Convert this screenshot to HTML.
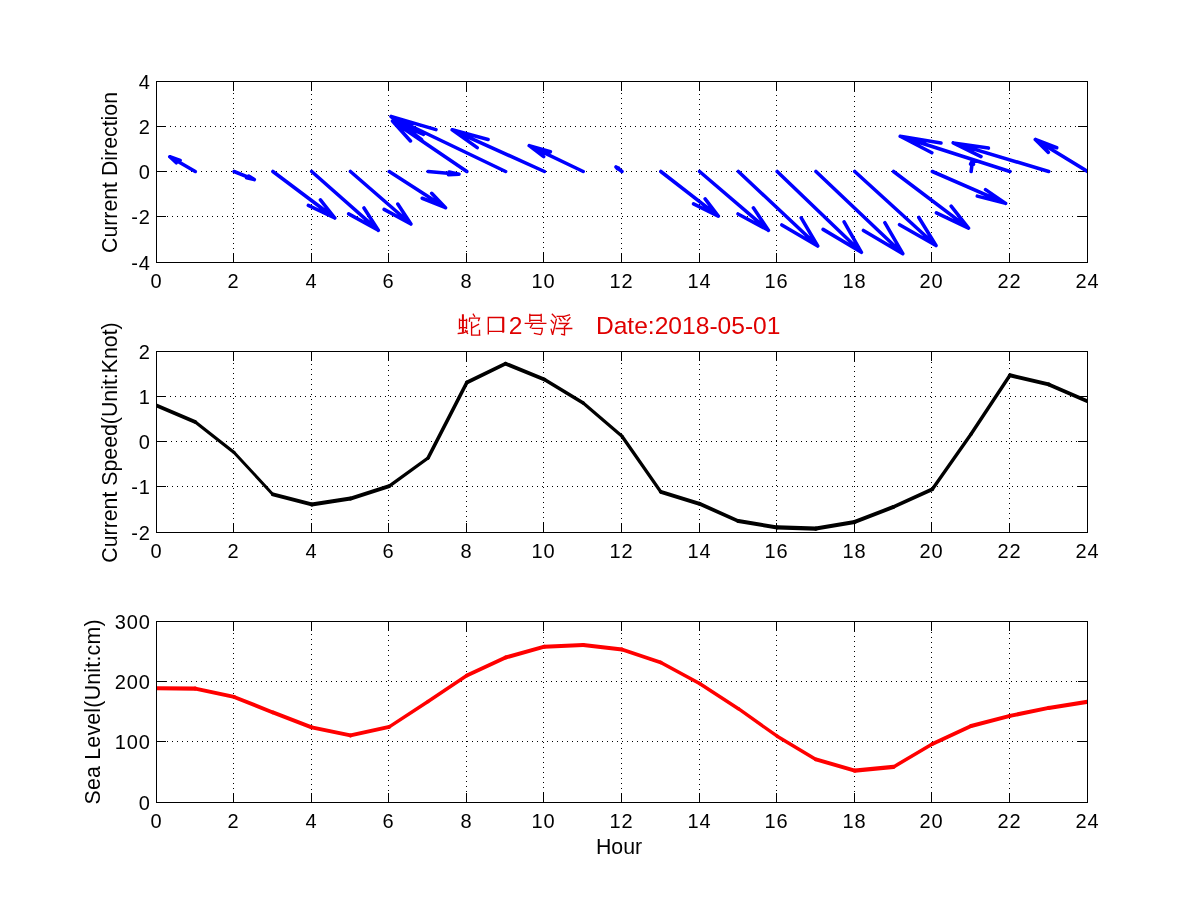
<!DOCTYPE html><html><head><meta charset="utf-8"><style>html,body{margin:0;padding:0;background:#fff;}svg{display:block;will-change:transform}</style></head><body>
<svg width="1201" height="901" viewBox="0 0 1201 901">
<rect width="1201" height="901" fill="#fff"/>
<path d="M233.5 83V263M311.5 84V263M388.5 85V263M466.5 81V263M543.5 82V263M621.5 83V263M699.5 84V263M776.5 85V263M854.5 81V263M931.5 82V263M1009.5 83V263M160 126.5H1088M156 171.5H1088M157 216.5H1088" stroke="#000" stroke-width="1" stroke-dasharray="1 4" fill="none"/>
<rect x="156.5" y="81.5" width="931" height="181" stroke="#000" stroke-width="1" fill="none"/>
<path d="M233.5 263v-10M233.5 81v10M311.5 263v-10M311.5 81v10M388.5 263v-10M388.5 81v10M466.5 263v-10M466.5 81v10M543.5 263v-10M543.5 81v10M621.5 263v-10M621.5 81v10M699.5 263v-10M699.5 81v10M776.5 263v-10M776.5 81v10M854.5 263v-10M854.5 81v10M931.5 263v-10M931.5 81v10M1009.5 263v-10M1009.5 81v10M156 126.5h10M1088 126.5h-10M156 171.5h10M1088 171.5h-10M156 216.5h10M1088 216.5h-10" stroke="#000" stroke-width="1" fill="none"/>
<path d="M233.5 353V533M311.5 354V533M388.5 355V533M466.5 351V533M543.5 352V533M621.5 353V533M699.5 354V533M776.5 355V533M854.5 351V533M931.5 352V533M1009.5 353V533M160 396.5H1088M156 441.5H1088M157 486.5H1088" stroke="#000" stroke-width="1" stroke-dasharray="1 4" fill="none"/>
<rect x="156.5" y="351.5" width="931" height="181" stroke="#000" stroke-width="1" fill="none"/>
<path d="M233.5 533v-10M233.5 351v10M311.5 533v-10M311.5 351v10M388.5 533v-10M388.5 351v10M466.5 533v-10M466.5 351v10M543.5 533v-10M543.5 351v10M621.5 533v-10M621.5 351v10M699.5 533v-10M699.5 351v10M776.5 533v-10M776.5 351v10M854.5 533v-10M854.5 351v10M931.5 533v-10M931.5 351v10M1009.5 533v-10M1009.5 351v10M156 396.5h10M1088 396.5h-10M156 441.5h10M1088 441.5h-10M156 486.5h10M1088 486.5h-10" stroke="#000" stroke-width="1" fill="none"/>
<path d="M233.5 623V803M311.5 624V803M388.5 625V803M466.5 621V803M543.5 622V803M621.5 623V803M699.5 624V803M776.5 625V803M854.5 621V803M931.5 622V803M1009.5 623V803M156 681.5H1088M157 741.5H1088" stroke="#000" stroke-width="1" stroke-dasharray="1 4" fill="none"/>
<rect x="156.5" y="621.5" width="931" height="181" stroke="#000" stroke-width="1" fill="none"/>
<path d="M233.5 803v-10M233.5 621v10M311.5 803v-10M311.5 621v10M388.5 803v-10M388.5 621v10M466.5 803v-10M466.5 621v10M543.5 803v-10M543.5 621v10M621.5 803v-10M621.5 621v10M699.5 803v-10M699.5 621v10M776.5 803v-10M776.5 621v10M854.5 803v-10M854.5 621v10M931.5 803v-10M931.5 621v10M1009.5 803v-10M1009.5 621v10M156 681.5h10M1088 681.5h-10M156 741.5h10M1088 741.5h-10" stroke="#000" stroke-width="1" fill="none"/>
<defs><clipPath id="c0"><rect x="157" y="82" width="930" height="180"/></clipPath><clipPath id="c1"><rect x="157" y="352" width="930" height="180"/></clipPath><clipPath id="c2"><rect x="157" y="622" width="930" height="180"/></clipPath></defs>
<g clip-path="url(#c1)"><g stroke="#000" stroke-linecap="round"><line x1="156.50" y1="405.50" x2="195.29" y2="422.00" stroke-width="3.77"/><line x1="195.29" y1="422.00" x2="234.08" y2="452.40" stroke-width="3.23"/><line x1="234.08" y1="452.40" x2="272.88" y2="494.40" stroke-width="3.01"/><line x1="272.88" y1="494.40" x2="311.67" y2="504.40" stroke-width="3.97"/><line x1="311.67" y1="504.40" x2="350.46" y2="498.60" stroke-width="4.05"/><line x1="350.46" y1="498.60" x2="389.25" y2="486.10" stroke-width="3.90"/><line x1="389.25" y1="486.10" x2="428.04" y2="458.00" stroke-width="3.32"/><line x1="428.04" y1="458.00" x2="466.83" y2="382.50" stroke-width="3.65"/><line x1="466.83" y1="382.50" x2="505.62" y2="363.70" stroke-width="3.69"/><line x1="505.62" y1="363.70" x2="544.42" y2="379.50" stroke-width="3.80"/><line x1="544.42" y1="379.50" x2="583.21" y2="403.00" stroke-width="3.51"/><line x1="583.21" y1="403.00" x2="622.00" y2="436.20" stroke-width="3.11"/><line x1="622.00" y1="436.20" x2="660.79" y2="491.90" stroke-width="3.36"/><line x1="660.79" y1="491.90" x2="699.58" y2="503.80" stroke-width="3.92"/><line x1="699.58" y1="503.80" x2="738.38" y2="521.10" stroke-width="3.74"/><line x1="738.38" y1="521.10" x2="777.17" y2="527.40" stroke-width="4.05"/><line x1="777.17" y1="527.40" x2="815.96" y2="528.60" stroke-width="4.10"/><line x1="815.96" y1="528.60" x2="854.75" y2="521.90" stroke-width="4.04"/><line x1="854.75" y1="521.90" x2="893.54" y2="506.90" stroke-width="3.82"/><line x1="893.54" y1="506.90" x2="932.33" y2="489.30" stroke-width="3.73"/><line x1="932.33" y1="489.30" x2="971.12" y2="434.00" stroke-width="3.36"/><line x1="971.12" y1="434.00" x2="1009.92" y2="375.30" stroke-width="3.42"/><line x1="1009.92" y1="375.30" x2="1048.71" y2="384.40" stroke-width="3.99"/><line x1="1048.71" y1="384.40" x2="1087.50" y2="401.20" stroke-width="3.76"/></g></g>
<g clip-path="url(#c2)"><g stroke="#f00" stroke-linecap="round"><line x1="156.50" y1="688.20" x2="195.29" y2="688.60" stroke-width="4.10"/><line x1="195.29" y1="688.60" x2="234.08" y2="696.90" stroke-width="4.01"/><line x1="234.08" y1="696.90" x2="272.88" y2="712.40" stroke-width="3.81"/><line x1="272.88" y1="712.40" x2="311.67" y2="727.40" stroke-width="3.82"/><line x1="311.67" y1="727.40" x2="350.46" y2="735.40" stroke-width="4.02"/><line x1="350.46" y1="735.40" x2="389.25" y2="726.90" stroke-width="4.00"/><line x1="389.25" y1="726.90" x2="428.04" y2="701.50" stroke-width="3.43"/><line x1="428.04" y1="701.50" x2="466.83" y2="675.50" stroke-width="3.41"/><line x1="466.83" y1="675.50" x2="505.62" y2="657.50" stroke-width="3.72"/><line x1="505.62" y1="657.50" x2="544.42" y2="646.70" stroke-width="3.95"/><line x1="544.42" y1="646.70" x2="583.21" y2="645.00" stroke-width="4.10"/><line x1="583.21" y1="645.00" x2="622.00" y2="649.50" stroke-width="4.07"/><line x1="622.00" y1="649.50" x2="660.79" y2="662.50" stroke-width="3.89"/><line x1="660.79" y1="662.50" x2="699.58" y2="683.50" stroke-width="3.61"/><line x1="699.58" y1="683.50" x2="738.38" y2="708.70" stroke-width="3.44"/><line x1="738.38" y1="708.70" x2="777.17" y2="736.20" stroke-width="3.34"/><line x1="777.17" y1="736.20" x2="815.96" y2="759.40" stroke-width="3.52"/><line x1="815.96" y1="759.40" x2="854.75" y2="770.60" stroke-width="3.94"/><line x1="854.75" y1="770.60" x2="893.54" y2="766.90" stroke-width="4.08"/><line x1="893.54" y1="766.90" x2="932.33" y2="744.00" stroke-width="3.53"/><line x1="932.33" y1="744.00" x2="971.12" y2="726.00" stroke-width="3.72"/><line x1="971.12" y1="726.00" x2="1009.92" y2="715.90" stroke-width="3.97"/><line x1="1009.92" y1="715.90" x2="1048.71" y2="707.90" stroke-width="4.02"/><line x1="1048.71" y1="707.90" x2="1087.50" y2="701.80" stroke-width="4.05"/></g></g>
<g clip-path="url(#c0)"><path d="M195.29 171.5L169.80 156.75M176.29 162.75L169.80 156.75L180.13 160.49M234.08 171.5L254.30 179.60M248.68 176.03L254.30 179.60L246.57 177.82M272.88 171.5L334.80 218.00M320.42 199.91L334.80 218.00L308.31 205.40M311.67 171.5L378.30 230.30M363.96 207.95L378.30 230.30L348.66 213.85M350.46 171.5L410.90 224.00M397.79 204.00L410.90 224.00L384.12 209.35M389.25 171.5L445.50 207.70M431.65 193.26L445.50 207.70L422.23 198.24M428.04 171.5L459.00 174.20M449.14 171.94L459.00 174.20L448.43 174.68M466.83 171.5L392.50 121.00M410.46 140.96L392.50 121.00L423.60 134.37M505.62 171.5L391.00 116.50M421.67 139.72L391.00 116.50L435.98 129.58M544.42 171.5L452.20 129.80M477.20 147.64L452.20 129.80L488.06 139.48M583.21 171.5L529.20 145.70M543.67 156.60L529.20 145.70L550.38 151.82M622.00 171.5L616.00 167.00M617.39 168.75L616.00 167.00L618.57 168.22M660.79 171.5L718.30 216.10M705.13 198.84L718.30 216.10L693.52 203.93M699.58 171.5L768.40 230.30M753.34 207.85L768.40 230.30L738.04 213.94M738.38 171.5L817.70 246.00M801.22 217.90L817.70 246.00L781.83 224.93M777.17 171.5L861.40 252.30M844.12 221.91L861.40 252.30L823.09 229.36M815.96 171.5L902.80 253.70M884.84 222.73L902.80 253.70L863.45 230.42M854.75 171.5L936.00 245.50M918.82 217.48L936.00 245.50L899.56 224.68M893.54 171.5L968.50 228.20M951.14 206.17L968.50 228.20L936.39 212.81M932.33 171.5L1005.60 203.40M985.57 189.63L1005.60 203.40L977.27 196.12M971.12 171.5L972.50 160.50M970.61 164.07L972.50 160.50L973.48 164.19M1009.92 171.5L900.20 136.30M931.83 152.77L900.20 136.30L940.99 143.06M1048.71 171.5L953.20 142.90M981.00 156.57L953.20 142.90L988.44 148.11M1087.50 171.5L1035.30 139.50M1048.36 152.37L1035.30 139.50L1056.69 147.75" fill="none" stroke="#00f" stroke-width="3.55" stroke-linejoin="round" stroke-linecap="round"/></g>
<g font-family='"Liberation Sans", sans-serif' font-size="20" letter-spacing="0.9" fill="#000"><text x="156.50" y="288" text-anchor="middle">0</text><text x="233.50" y="288" text-anchor="middle">2</text><text x="311.50" y="288" text-anchor="middle">4</text><text x="388.50" y="288" text-anchor="middle">6</text><text x="466.50" y="288" text-anchor="middle">8</text><text x="543.50" y="288" text-anchor="middle">10</text><text x="621.50" y="288" text-anchor="middle">12</text><text x="699.50" y="288" text-anchor="middle">14</text><text x="776.50" y="288" text-anchor="middle">16</text><text x="854.50" y="288" text-anchor="middle">18</text><text x="931.50" y="288" text-anchor="middle">20</text><text x="1009.50" y="288" text-anchor="middle">22</text><text x="1087.50" y="288" text-anchor="middle">24</text><text x="150.90" y="89" text-anchor="end">4</text><text x="150.90" y="134" text-anchor="end">2</text><text x="150.90" y="179" text-anchor="end">0</text><text x="150.90" y="224" text-anchor="end">-2</text><text x="150.90" y="270" text-anchor="end">-4</text><text x="156.50" y="558" text-anchor="middle">0</text><text x="233.50" y="558" text-anchor="middle">2</text><text x="311.50" y="558" text-anchor="middle">4</text><text x="388.50" y="558" text-anchor="middle">6</text><text x="466.50" y="558" text-anchor="middle">8</text><text x="543.50" y="558" text-anchor="middle">10</text><text x="621.50" y="558" text-anchor="middle">12</text><text x="699.50" y="558" text-anchor="middle">14</text><text x="776.50" y="558" text-anchor="middle">16</text><text x="854.50" y="558" text-anchor="middle">18</text><text x="931.50" y="558" text-anchor="middle">20</text><text x="1009.50" y="558" text-anchor="middle">22</text><text x="1087.50" y="558" text-anchor="middle">24</text><text x="150.90" y="359" text-anchor="end">2</text><text x="150.90" y="404" text-anchor="end">1</text><text x="150.90" y="449" text-anchor="end">0</text><text x="150.90" y="494" text-anchor="end">-1</text><text x="150.90" y="540" text-anchor="end">-2</text><text x="156.50" y="828" text-anchor="middle">0</text><text x="233.50" y="828" text-anchor="middle">2</text><text x="311.50" y="828" text-anchor="middle">4</text><text x="388.50" y="828" text-anchor="middle">6</text><text x="466.50" y="828" text-anchor="middle">8</text><text x="543.50" y="828" text-anchor="middle">10</text><text x="621.50" y="828" text-anchor="middle">12</text><text x="699.50" y="828" text-anchor="middle">14</text><text x="776.50" y="828" text-anchor="middle">16</text><text x="854.50" y="828" text-anchor="middle">18</text><text x="931.50" y="828" text-anchor="middle">20</text><text x="1009.50" y="828" text-anchor="middle">22</text><text x="1087.50" y="828" text-anchor="middle">24</text><text x="150.90" y="629" text-anchor="end">300</text><text x="150.90" y="689" text-anchor="end">200</text><text x="150.90" y="749" text-anchor="end">100</text><text x="150.90" y="810" text-anchor="end">0</text></g>
<g font-family='"Liberation Sans", sans-serif' font-size="21.3" fill="#000" opacity="0.999">
<text transform="translate(117 172.5) rotate(-90)" text-anchor="middle">Current Direction</text>
<text transform="translate(117 442.5) rotate(-90)" text-anchor="middle">Current Speed(Unit:Knot)</text>
<text transform="translate(100 712) rotate(-90)" text-anchor="middle" textLength="185" lengthAdjust="spacing">Sea Level(Unit:cm)</text>
<text x="619" y="854" text-anchor="middle">Hour</text>
</g>
<g font-family='"Liberation Sans", sans-serif' font-size="24.6" fill="#e00000" opacity="0.999">
<text x="508.8" y="334">2</text>
<text x="595.9" y="334">Date:2018-05-01</text>
</g>
<path d="M459.5 319.2V328.6M459.5 320.4H466.7M466.5 319.4V328.3M459.5 327.6H466.5M458.3 333.5L463 333L467.3 331.2M465.5 330.5L467.5 333.4M473.3 314.3L474.5 316.2M469.4 321.2L469.6 318.1H479.5L478.6 320.6M471.6 322.4V335.1H479.7M479.5 335V330.5M472.5 327.7L478.5 324.4M488.3 317.5V333.7M488.3 317.5H503.1V332M488.3 331.4H503M529.8 314.3V321.2M541.2 314.3V321.2M529.8 315.2H541.2M529.8 320.4H541.2M525.3 323.4H545.8M532.2 324.4L530.4 327.6M532.2 328.3H542.3Q542 333.5 540.5 334.6L534.5 333.4M552.3 314.3L555.5 317.5M551.2 320.4L553.5 323M551.2 329.3L552.6 334.8L556.4 319.2M557.2 316.3H564.2L569.4 314.9M559.3 318.2L561 320.7M563 317.5L565 319.5M570 317.8L567.3 320.7M559.3 323.5H568.2L564.7 326.4M556.1 328.5H571.7M564.5 326.4V334.8L561.6 334.2" fill="none" stroke="#dc0000" stroke-width="1.35" stroke-linecap="square"/>
<path d="M462.9 314.3V332.8M503.3 317.2V332.2" stroke="#dc0000" stroke-width="2" fill="none"/>
</svg></body></html>
